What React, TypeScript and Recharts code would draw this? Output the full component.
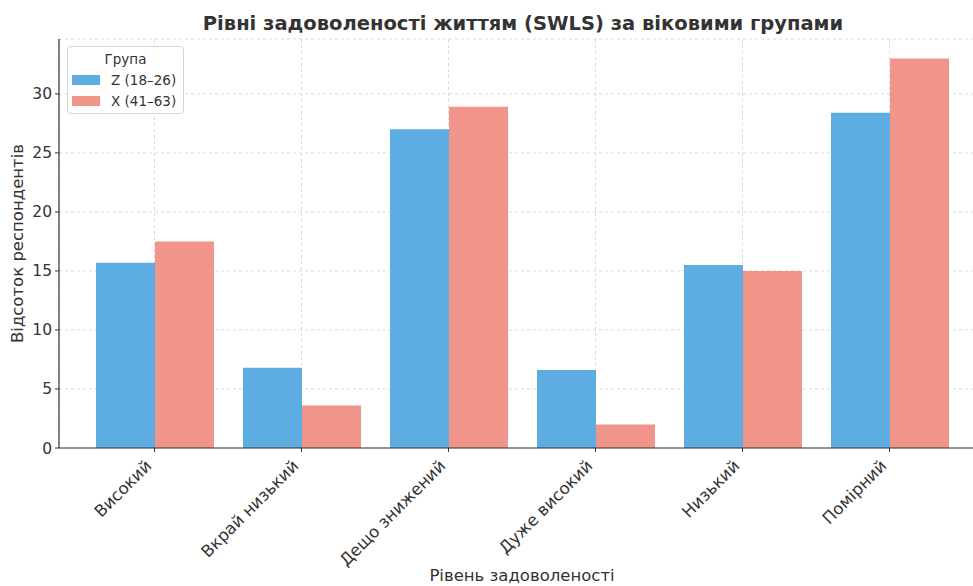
import React from 'react';
import { BarChart, Bar, XAxis, YAxis, CartesianGrid, Legend, Label } from 'recharts';

const categories = ['Високий', 'Вкрай низький', 'Дещо знижений', 'Дуже високий', 'Низький', 'Помірний'];
const genZ = [15.7, 6.8, 27.0, 6.6, 15.5, 28.4];
const genX = [17.5, 3.6, 28.9, 2.0, 15.0, 33.0];
const yTicks = [0, 5, 10, 15, 20, 25, 30];
const seriesNames = ['Z (18–26)', 'X (41–63)'];
const seriesColors = ['#5DADE2', '#F1948A'];
const legendTitle = 'Група';
const title = 'Рівні задоволеності життям (SWLS) за віковими групами';
const xTitle = 'Рівень задоволеності';
const yTitle = 'Відсоток респондентів';

const data = categories.map((c, i) => ({ name: c, z: genZ[i], x: genX[i] }));

const FONT = '"DejaVu Sans", sans-serif';
const TXT = '#333333';

const XTick = (props: any) => {
  const { x, y, payload } = props;
  return (
    <g transform={`translate(${x - 2},${y + 13})`}>
      <text transform="rotate(-45)" textAnchor="end" fontSize={16.5} fontFamily={FONT} fill={TXT}>
        {payload.value}
      </text>
    </g>
  );
};

const LegendBox = () => (
  <div
    style={{
      width: 115,
      height: 66,
      border: '1px solid #d6d6d6',
      borderRadius: 4,
      background: 'rgba(255,255,255,0.85)',
      fontFamily: FONT,
      fontSize: 13.5,
      color: TXT,
      position: 'relative',
      boxSizing: 'content-box',
    }}
  >
    <div style={{ position: 'absolute', top: 4, left: 0, width: '100%', textAlign: 'center' }}>{legendTitle}</div>
    {seriesNames.map((n, i) => (
      <div key={n} style={{ position: 'absolute', left: 4, top: 25 + i * 21, display: 'flex', alignItems: 'center' }}>
        <span style={{ display: 'inline-block', width: 28, height: 10, background: seriesColors[i], marginRight: 11 }} />
        <span>{n}</span>
      </div>
    ))}
  </div>
);

export default function App() {
  return (
    <div style={{ position: 'absolute', left: 0, top: 0, width: 973, height: 586, overflow: 'hidden', background: '#fff' }}>
      <div
        style={{
          position: 'absolute',
          top: 12,
          left: 0,
          width: 1046,
          textAlign: 'center',
          fontFamily: FONT,
          fontWeight: 'bold',
          fontSize: 19.5,
          color: TXT,
          whiteSpace: 'nowrap',
        }}
      >
        {title}
      </div>
      <BarChart
        width={985}
        height={586}
        data={data}
        margin={{ top: 39, right: 0, bottom: 0, left: 0 }}
        barCategoryGap={15}
        barGap={0}
      >
        <CartesianGrid stroke="#d9d9d9" strokeDasharray="3 3" />
        <XAxis
          dataKey="name"
          height={138}
          interval={0}
          padding={{ left: 22, right: 22 }}
          tick={<XTick />}
          tickSize={4}
          tickMargin={2}
          stroke="#333"
          axisLine={{ stroke: '#333', strokeWidth: 1.2 }}
          tickLine={{ stroke: '#333' }}
        >
          <Label
            content={(p: any) => {
              const vb = p.viewBox;
              return (
                <text x={522} y={vb.y + 133} textAnchor="middle" fontSize={16.5} fontFamily={FONT} fill={TXT}>
                  {xTitle}
                </text>
              );
            }}
          />
        </XAxis>
        <YAxis
          width={59}
          domain={[0, 34.65]}
          ticks={yTicks}
          allowDataOverflow
          tickSize={4}
          tickMargin={3}
          tick={{ fontSize: 15.5, fontFamily: FONT, fill: TXT }}
          axisLine={{ stroke: '#333', strokeWidth: 1.2 }}
          tickLine={{ stroke: '#333' }}
        >
          <Label
            content={(p: any) => {
              const vb = p.viewBox;
              const cy = vb.y + vb.height / 2;
              return (
                <text
                  x={23}
                  y={cy}
                  transform={`rotate(-90, 23, ${cy})`}
                  textAnchor="middle"
                  fontSize={16.5}
                  fontFamily={FONT}
                  fill={TXT}
                >
                  {yTitle}
                </text>
              );
            }}
          />
        </YAxis>
        <Legend
          layout="vertical"
          align="center"
          verticalAlign="middle"
          wrapperStyle={{ left: 67, top: 46, width: 117, height: 68 }}
          content={() => <LegendBox />}
        />
        <Bar dataKey="z" name={seriesNames[0]} fill={seriesColors[0]} isAnimationActive={false} />
        <Bar dataKey="x" name={seriesNames[1]} fill={seriesColors[1]} isAnimationActive={false} />
      </BarChart>
    </div>
  );
}
